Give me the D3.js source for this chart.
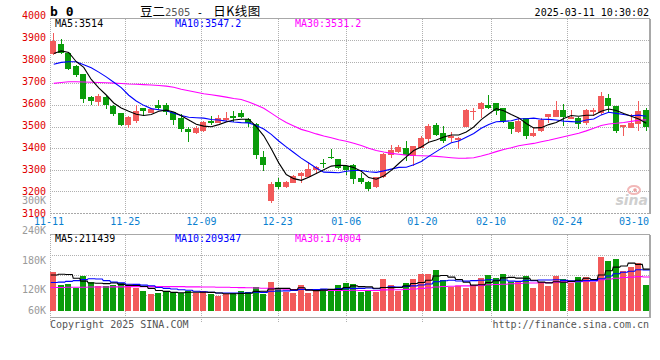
<!DOCTYPE html>
<html><head><meta charset="utf-8">
<script src="https://cdn.jsdelivr.net/npm/d3@7"></script>
<style>body{margin:0;background:#fff}svg{display:block}</style>
</head><body><svg id="c" width="660" height="360"></svg>
<script>
const dates = ["11-11","11-12","11-13","11-14","11-15","11-18","11-19","11-20","11-21","11-22","11-25","11-26","11-27","11-28","11-29","12-02","12-03","12-04","12-05","12-06","12-09","12-10","12-11","12-12","12-13","12-16","12-17","12-18","12-19","12-20","12-23","12-24","12-25","12-26","12-27","12-30","12-31","01-02","01-03","01-06","01-07","01-08","01-09","01-10","01-13","01-14","01-15","01-16","01-17","01-20","01-21","01-22","01-23","01-24","01-27","02-05","02-06","02-07","02-10","02-11","02-12","02-13","02-14","02-17","02-18","02-19","02-20","02-21","02-24","02-25","02-26","02-27","02-28","03-03","03-04","03-05","03-06","03-07","03-10","03-11"];
const open = [3836,3882,3841,3780,3743,3638,3615,3638,3597,3564,3507,3526,3587,3564,3600,3600,3569,3538,3489,3472,3479,3526,3515,3530,3549,3561,3534,3512,3361,3157,3245,3222,3240,3271,3268,3299,3331,3357,3348,3317,3320,3263,3245,3219,3268,3368,3384,3399,3364,3399,3442,3507,3472,3446,3438,3500,3566,3581,3600,3607,3584,3523,3476,3538,3456,3481,3543,3546,3577,3533,3538,3515,3568,3564,3630,3595,3496,3494,3514,3576];
const high = [3933,3905,3846,3783,3745,3641,3651,3640,3600,3564,3548,3600,3587,3587,3623,3610,3569,3558,3500,3503,3526,3549,3553,3569,3572,3577,3538,3515,3388,3245,3260,3250,3276,3290,3338,3318,3348,3395,3348,3320,3325,3284,3247,3268,3376,3415,3415,3435,3410,3456,3512,3518,3503,3476,3453,3580,3587,3615,3646,3607,3584,3523,3538,3541,3492,3538,3558,3618,3604,3577,3546,3580,3587,3661,3651,3597,3507,3560,3618,3584];
const low = [3832,3835,3760,3731,3607,3600,3597,3582,3549,3503,3495,3518,3550,3561,3577,3553,3507,3476,3430,3466,3476,3507,3515,3523,3523,3538,3500,3352,3296,3148,3212,3217,3237,3237,3265,3281,3307,3348,3302,3278,3235,3234,3202,3214,3260,3353,3376,3342,3317,3399,3422,3456,3425,3430,3395,3500,3530,3538,3580,3553,3515,3466,3472,3442,3450,3476,3518,3543,3503,3533,3487,3507,3547,3555,3569,3472,3456,3492,3480,3481];
const close = [3898,3842,3765,3739,3626,3620,3643,3600,3558,3507,3546,3572,3573,3580,3584,3569,3530,3489,3476,3492,3523,3515,3538,3538,3538,3543,3515,3368,3322,3236,3219,3245,3271,3286,3304,3311,3328,3355,3307,3299,3259,3245,3211,3265,3373,3392,3404,3368,3410,3449,3504,3461,3435,3455,3449,3577,3572,3607,3587,3572,3526,3489,3526,3458,3472,3530,3558,3577,3546,3546,3512,3577,3577,3641,3596,3481,3507,3516,3573,3500];
const volume = [203000,136000,141000,122000,183000,153000,131000,131000,136000,148000,131000,122000,106000,88000,95000,106000,95000,95000,106000,95000,104000,92000,78000,88000,95000,106000,100000,127000,92000,153000,122000,100000,95000,139000,95000,104000,118000,115000,136000,148000,141000,100000,109000,100000,168000,136000,106000,148000,168000,194000,194000,215000,162000,127000,131000,122000,136000,174000,189000,174000,197000,153000,153000,183000,122000,150000,131000,183000,168000,148000,180000,180000,153000,285000,263000,273000,210000,229000,250000,136000];
const ma5 = [3838,3850,3843,3800,3774,3718,3679,3646,3609,3586,3571,3557,3551,3556,3571,3576,3567,3550,3530,3511,3502,3499,3509,3521,3530,3534,3534,3500,3457,3397,3332,3278,3259,3251,3265,3283,3300,3317,3321,3320,3310,3293,3264,3256,3271,3297,3329,3360,3389,3405,3427,3438,3452,3461,3461,3475,3498,3532,3558,3583,3573,3556,3540,3514,3494,3495,3509,3519,3537,3551,3548,3552,3552,3571,3581,3574,3560,3548,3535,3515];
const ma10 = [3788,3797,3800,3800,3786,3772,3752,3730,3705,3680,3645,3618,3598,3583,3578,3573,3562,3551,3543,3541,3539,3533,3530,3525,3521,3518,3517,3505,3489,3464,3433,3406,3380,3354,3331,3308,3289,3288,3286,3293,3297,3297,3291,3288,3295,3303,3311,3312,3323,3338,3362,3384,3406,3425,3433,3451,3468,3492,3510,3522,3524,3527,3536,3536,3539,3534,3533,3530,3525,3523,3521,3530,3535,3554,3566,3561,3556,3550,3553,3548];
const ma30 = [3700,3704,3707,3707,3706,3705,3704,3703,3701,3699,3697,3696,3694,3692,3690,3687,3682,3673,3666,3659,3652,3647,3642,3636,3630,3625,3614,3600,3585,3562,3539,3519,3503,3487,3477,3466,3456,3448,3439,3432,3423,3412,3400,3389,3382,3376,3372,3368,3366,3365,3364,3362,3359,3356,3353,3354,3356,3364,3373,3384,3394,3402,3411,3417,3422,3430,3437,3445,3453,3461,3469,3480,3492,3505,3512,3515,3519,3524,3529,3531];
const vma5 = [189,193,192,172,157,147,146,144,147,140,135,134,129,119,108,103,98,96,99,99,99,98,95,91,91,92,93,103,104,116,119,119,112,122,110,107,110,114,114,124,132,128,127,120,124,123,124,132,145,150,162,184,187,178,166,151,136,138,150,159,174,177,173,172,162,152,148,154,151,156,162,172,166,189,212,231,237,252,245,220].map(v => v * 1000);
const vma10 = [150,152,156,160,165,170,168,160,152,148,141,140,136,133,124,119,116,112,109,104,101,98,95,95,95,95,96,99,98,104,105,106,108,113,113,113,115,113,118,117,119,119,121,117,124,127,126,129,132,137,142,154,159,162,158,157,160,162,164,162,163,157,156,161,160,163,163,164,161,159,157,160,160,170,184,196,204,209,217,216].map(v => v * 1000);
const vma30 = [124,124,125,125,125,126,126,126,127,127,128,128,128,128,128,128,128,128,127,127,126,126,125,125,124,123,122,121,120,119,116,115,113,114,111,109,109,108,108,108,109,108,108,108,111,112,112,114,116,119,122,126,129,130,132,132,133,135,138,139,141,143,145,147,147,149,149,152,153,153,154,157,158,164,168,172,176,178,181,179].map(v => v * 1000);
const priceTicks = [4000,3900,3800,3700,3600,3500,3400,3300,3200,3100];
const volTicks = ["300K","240K","180K","120K","60K"];
const volGrid = [180000,120000,60000];
const dateTicks = ["11-11","11-25","12-09","12-23","01-06","01-20","02-10","02-24","03-10"];
const priceLegend = ["MA5:3514","MA10:3547.2","MA30:3531.2"];
const volLegend = ["MA5:211439","MA10:209347","MA30:174004"];
const titleParts = ["豆二","2505"," - ","日K线图"];
const stamp = "2025-03-11 10:30:02";

const svg = d3.select("#c");
const mono = "'DejaVu Sans Mono','Liberation Mono',monospace";
const L = 50, R = 649.5, PT = 18.5, PB = 213.5, VT = 234.5, VB = 317.5;
const RED = "#f25a5a", GREEN = "#0a9c0a", GRID = "#b0b0b0", FRAME = "#a8a8a8";
const legendColors = ["#000000","#0000ff","#ff00ff"];

const xb = d3.scaleBand().domain(d3.range(dates.length)).range([50, 650]).paddingInner(0.2).paddingOuter(0.1);
const bw = xb.bandwidth();
const cx = i => Math.floor(xb(i)) + 3;
const ps = d3.scaleLinear().domain([3100, 4000]).range([213, 18.5]);
const plabel = d3.scaleLinear().domain([3100, 4000]).range([213, 15]);
const vs = d3.scaleLinear().domain([0, 405000]).range([311, 234]);
const gx = d3.scaleLinear().domain([0, 78]).range([49, 643.4]);
const volGridY = [255.5, 275.5, 295.5];
const volLabelBase = [204, 234, 264, 293.3, 314];

svg.append("rect").attr("width", 660).attr("height", 360).attr("fill", "#fff");

// grid
const g = svg.append("g").attr("stroke", GRID).attr("stroke-dasharray", "1,1").attr("shape-rendering", "crispEdges");
priceTicks.filter(v => v > 3100 && v < 4000).forEach(v => {
  const y = Math.round(ps(v)) + 0.5;
  g.append("line").attr("x1", L).attr("x2", R).attr("y1", y).attr("y2", y);
});
volGridY.forEach(y => {
  g.append("line").attr("x1", L).attr("x2", R).attr("y1", y).attr("y2", y);
});
const tickIdx = dateTicks.map(d => dates.indexOf(d));
tickIdx.slice(1, -1).forEach(i => {
  const x = Math.round(gx(i)) + 0.5;
  g.append("line").attr("x1", x).attr("x2", x).attr("y1", PT).attr("y2", PB);
  g.append("line").attr("x1", x).attr("x2", x).attr("y1", VT).attr("y2", VB + 4);
});
g.append("line").attr("x1", 50.5).attr("x2", 50.5).attr("y1", PT).attr("y2", PB + 4);
g.append("line").attr("x1", 50.5).attr("x2", 50.5).attr("y1", VT).attr("y2", VB + 4);

// frames
const f = svg.append("g").attr("stroke", FRAME).attr("fill", "none").attr("shape-rendering", "crispEdges");
f.append("path").attr("d", `M${L},${PT}H${R}V${PB}`);
f.append("line").attr("x1", L).attr("x2", R).attr("y1", PB).attr("y2", PB).attr("stroke-dasharray", "2,1");
f.append("path").attr("d", `M${L},${VT}H${R}V${VB}H${L}`);
f.append("line").attr("x1", 649.5).attr("x2", 649.5).attr("y1", PT).attr("y2", PB).attr("stroke-width", 2);
f.append("line").attr("x1", 649.5).attr("x2", 649.5).attr("y1", VT).attr("y2", VB).attr("stroke-width", 2);

// watermark
const wm = svg.append("g");
wm.append("ellipse").attr("cx", 634).attr("cy", 190).attr("rx", 6).attr("ry", 4).attr("fill", "none").attr("stroke", "#f2b8b8").attr("stroke-width", 2);
wm.append("circle").attr("cx", 635).attr("cy", 190).attr("r", 1.8).attr("fill", "#eaa0a0");
wm.append("text").attr("x", 648).attr("y", 205).attr("text-anchor", "end").attr("font-family", "'DejaVu Sans',sans-serif").attr("font-style", "italic").attr("font-weight", "bold").attr("font-size", 14).attr("fill", "#cfcfcf").text("sina");

// candles
const cg = svg.append("g").attr("shape-rendering", "crispEdges");
dates.forEach((d, i) => {
  const up = close[i] >= open[i];
  const col = up ? RED : GREEN;
  const x = cx(i) + 0.5;
  cg.append("line").attr("x1", x).attr("x2", x).attr("y1", ps(high[i])).attr("y2", ps(low[i])).attr("stroke", col);
  const yT = ps(Math.max(open[i], close[i])), yB = ps(Math.min(open[i], close[i]));
  cg.append("rect").attr("x", Math.floor(xb(i))).attr("y", yT).attr("width", Math.round(bw)).attr("height", Math.max(1, yB - yT)).attr("fill", col);
});

// price MA lines
svg.append("clipPath").attr("id", "pc").append("rect").attr("x", L).attr("y", PT).attr("width", R - L).attr("height", PB - PT);
const line = d3.line().x((d, i) => xb(i) + bw / 2).y(d => ps(d));
[ma30, ma10, ma5].forEach((s, k) => {
  svg.append("path").attr("d", line(s)).attr("fill", "none").attr("stroke", legendColors[2 - k]).attr("stroke-width", 1.1).attr("clip-path", "url(#pc)");
});

// volume bars
const vg = svg.append("g").attr("shape-rendering", "crispEdges");
volume.forEach((v, i) => {
  const up = close[i] >= open[i];
  vg.append("rect").attr("x", Math.floor(xb(i))).attr("y", vs(v)).attr("width", Math.round(bw)).attr("height", vs(0) - vs(v)).attr("fill", up ? RED : GREEN);
});
const stepLine = s => {
  const pts = [];
  s.forEach((v, i) => { pts.push([xb(i), vs(v)]); pts.push([xb(i) + bw + 0.5, vs(v)]); });
  return d3.line()(pts);
};
[vma30, vma10, vma5].forEach((s, k) => {
  svg.append("path").attr("d", stepLine(s)).attr("fill", "none").attr("stroke", legendColors[2 - k]).attr("stroke-width", 1.1);
});

// axis labels
const t = svg.append("g").attr("font-family", mono).attr("font-size", 10);
priceTicks.forEach(v => {
  t.append("text").attr("x", 46).attr("y", plabel(v) + 3.5).attr("text-anchor", "end").attr("fill", "#e00000").text(v);
});
volTicks.forEach((s, k) => {
  t.append("text").attr("x", 46).attr("y", volLabelBase[k]).attr("text-anchor", "end").attr("fill", "#9a9a9a").text(s);
});
tickIdx.forEach((i, k) => {
  const last = k === tickIdx.length - 1;
  t.append("text").attr("x", last ? 649 : gx(i)).attr("y", 225).attr("text-anchor", last ? "end" : "middle").attr("fill", "#0a7fd0").text(dateTicks[k]);
});
[55, 175, 295].forEach((x, k) => {
  t.append("text").attr("x", x).attr("y", 27).attr("fill", legendColors[k]).text(priceLegend[k]);
  t.append("text").attr("x", x).attr("y", 241.5).attr("fill", legendColors[k]).text(volLegend[k]);
});
// header
svg.append("text").attr("x", 50).attr("y", 16).attr("font-family", mono).attr("font-weight", "bold").attr("font-size", 13).attr("fill", "#000").text("b 0");
const tt = svg.append("text").attr("x", 140).attr("y", 16).attr("fill", "#000");
tt.append("tspan").attr("font-family", "'Noto Sans CJK SC',sans-serif").attr("font-size", 12.5).text(titleParts[0]);
tt.append("tspan").attr("font-family", mono).attr("font-size", 10.5).attr("fill", "#555").text(titleParts[1]);
tt.append("tspan").attr("font-family", mono).attr("font-size", 10.5).attr("xml:space", "preserve").text(titleParts[2]);
tt.append("tspan").attr("font-family", "'Noto Sans CJK SC',sans-serif").attr("font-size", 12.5).attr("letter-spacing", 0.5).attr("dx", 4).text(titleParts[3]);
t.append("text").attr("x", 649).attr("y", 16).attr("text-anchor", "end").attr("fill", "#000").text(stamp);
t.append("text").attr("x", 50).attr("y", 328).attr("fill", "#555").text("Copyright 2025 SINA.COM");
t.append("text").attr("x", 649).attr("y", 328).attr("text-anchor", "end").attr("fill", "#555").text("http://finance.sina.com.cn");
</script>
</body></html>
